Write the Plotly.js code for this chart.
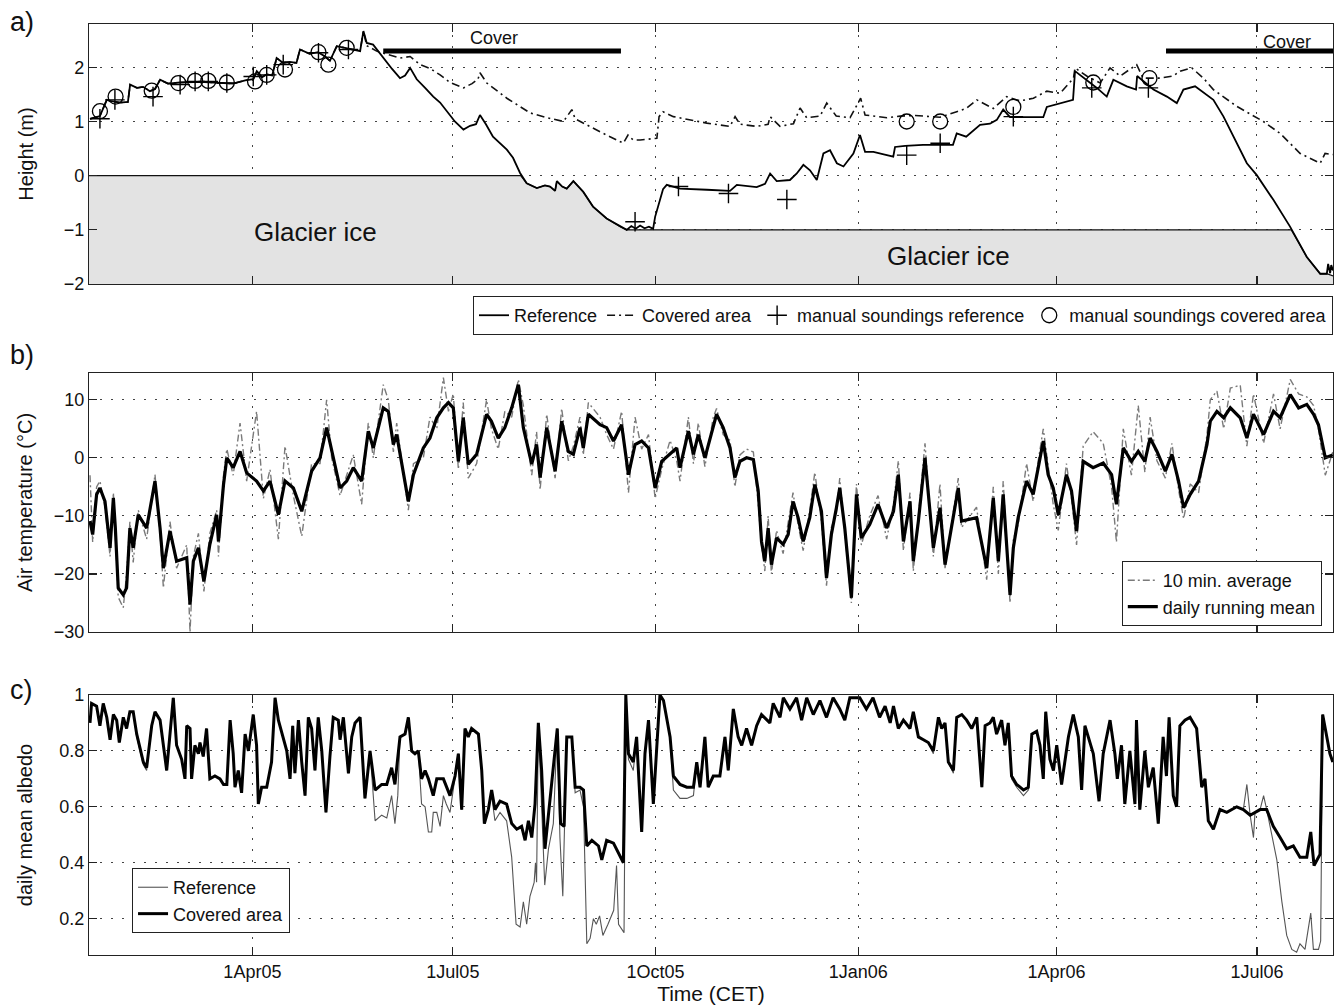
<!DOCTYPE html>
<html>
<head>
<meta charset="utf-8">
<script src="https://cdn.plot.ly/plotly-3.0.1.min.js"></script>
<style>
html,body{margin:0;padding:0;background:#fff;}
#chart{width:1341px;height:1007px;}
</style>
</head>
<body>
<div id="chart"></div>
<script>
// ---------- time axis (days since 1 Jan 2005) ----------
const tickDays   = [90, 181, 273, 365, 455, 546];
const tickLabels = ['1Apr05', '1Jul05', '1Oct05', '1Jan06', '1Apr06', '1Jul06'];
const timeRange  = [15.84, 580.5];

// ---------- panel a: snow height ----------
const refDays = [16.3,19.5,20.8,23.9,25.4,29.9,33.5,34.5,37.6,40.4,
  43.5,45.8,48.1,51.7,57.2,66.2,73.0,81.3,86.7,90.4,
  92.0,94.4,96.5,99.0,101.0,104.0,107.0,110.0,111.6,116.0,
  119.8,123.0,125.2,127.5,128.3,132.0,135.8,138.9,140.4,141.9,
  144.8,149.4,153.4,157.0,159.3,161.6,164.6,168.4,172.1,175.2,
  178.8,181.9,185.8,188.8,191.5,193.3,196.0,199.2,205.5,208.3,
  211.5,214.5,219.1,222.8,225.1,227.4,228.2,230.6,232.7,235.7,
  240.2,244.6,250.8,256.9,259.9,262.0,264.0,266.0,268.0,270.0,
  271.9,272.8,275.1,276.4,278.1,284.1,296.3,306.8,309.9,318.9,
  322.7,325.0,328.0,334.0,337.1,340.1,343.1,346.2,349.2,352.2,
  355.3,358.3,362.8,365.8,368.1,371.9,378.0,380.9,381.7,386.3,
  394.4,408.0,409.7,414.0,420.3,424.8,427.9,430.8,433.9,449.0,
  450.6,459.7,462.5,463.4,468.7,473.3,477.8,480.8,486.9,491.1,
  491.6,499.0,505.1,509.6,512.6,517.9,526.2,530.8,541.4,545.9,
  553.5,561.0,568.6,574.7,577.7,578.3,579.2,579.7,580.5];
const refHeight = [1.05,1.08,1.10,1.40,1.38,1.35,1.36,1.68,1.62,1.64,
  1.56,1.60,1.77,1.70,1.72,1.73,1.72,1.70,1.76,1.78,
  1.93,1.82,1.87,1.85,2.17,2.08,2.10,2.08,2.33,2.25,
  2.28,2.20,2.12,2.30,2.39,2.36,2.32,2.30,2.67,2.45,
  2.42,2.17,1.97,1.80,1.85,1.99,1.78,1.62,1.46,1.35,
  1.15,1.00,0.85,0.92,0.95,1.12,0.95,0.72,0.48,0.33,
  0.05,-0.14,-0.23,-0.18,-0.20,-0.28,-0.10,-0.20,-0.24,-0.10,
  -0.30,-0.57,-0.79,-0.94,-1.00,-0.93,-0.98,-0.92,-0.97,-0.94,
  -0.98,-0.76,-0.45,-0.25,-0.17,-0.24,-0.26,-0.28,-0.17,-0.21,
  -0.15,0.04,-0.10,-0.08,0.04,0.20,0.10,-0.08,0.41,0.47,
  0.23,0.17,0.41,0.75,0.44,0.44,0.38,0.35,0.53,0.55,
  0.57,0.57,0.78,0.72,0.94,0.96,1.03,1.22,1.08,1.08,
  1.27,1.37,1.40,1.93,1.77,1.62,1.46,1.77,1.65,1.59,
  1.84,1.59,1.46,1.34,1.59,1.65,1.40,1.09,0.23,0.01,
  -0.45,-0.94,-1.50,-1.81,-1.81,-1.63,-1.80,-1.65,-1.75];

const covDays = [16.3,19.5,20.8,23.9,25.4,29.9,33.5,34.5,37.6,40.4,
  43.5,45.8,48.1,51.7,57.2,66.2,73.0,81.3,86.7,90.4,
  92.0,94.4,96.5,99.0,101.0,104.0,107.0,110.0,111.6,116.0,
  119.8,123.0,125.2,127.5,128.3,132.0,135.8,138.9,140.4,141.9,
  146.4,152.5,157.0,161.6,166.1,170.6,175.2,179.7,185.8,189.7,
  192.4,193.3,196.4,205.5,216.0,222.8,231.2,235.0,236.5,247.8,
  258.4,260.5,262.8,266.0,273.6,274.6,276.4,281.1,296.3,306.8,
  309.1,311.3,318.9,324.1,325.0,329.5,335.6,338.6,341.6,347.7,
  350.7,355.0,361.3,366.1,368.1,378.0,384.0,390.8,402.1,409.7,
  414.0,418.8,426.3,432.4,438.5,444.5,450.6,456.6,462.7,463.4,
  468.7,474.8,479.3,483.9,491.4,494.3,502.0,507.9,511.1,516.4,
  521.7,526.2,536.8,548.9,556.5,565.6,574.7,576.9,580.5];
const covHeight = [1.05,1.08,1.10,1.40,1.38,1.35,1.36,1.68,1.62,1.64,
  1.56,1.60,1.77,1.70,1.72,1.73,1.72,1.70,1.76,1.78,
  1.93,1.82,1.87,1.85,2.17,2.08,2.10,2.08,2.33,2.25,
  2.28,2.20,2.12,2.30,2.39,2.36,2.32,2.30,2.67,2.40,
  2.30,2.22,2.17,2.20,2.05,1.98,1.86,1.72,1.62,1.70,
  1.78,1.90,1.71,1.43,1.16,1.08,1.00,1.22,1.05,0.81,
  0.60,0.75,0.66,0.66,0.69,1.09,1.18,1.09,0.97,0.91,
  1.09,0.95,0.91,0.95,1.09,0.91,0.96,1.25,1.07,1.10,
  1.34,1.10,1.07,1.43,1.12,1.07,1.10,1.11,1.08,1.18,
  1.24,1.40,1.24,1.46,1.38,1.43,1.56,1.52,1.80,1.99,
  1.84,1.71,1.99,1.84,2.05,1.80,1.80,1.84,1.93,1.99,
  1.80,1.59,1.28,1.00,0.78,0.41,0.23,0.41,0.39];

const soundRefDays   = [20.8,27.6,44.9,57.2,64.0,70.0,78.4,90.4,96.5,104.0,120.0,133.6,263.7,283.4,306.1,332.6,387.0,402.2,435.4,471.0,496.7];
const soundRefHeight = [1.05,1.40,1.46,1.68,1.74,1.74,1.71,1.83,1.86,2.05,2.27,2.33,-0.85,-0.20,-0.33,-0.44,0.38,0.60,1.09,1.62,1.62];
const soundCovDays   = [20.8,27.9,44.3,56.4,64.0,70.0,78.4,91.2,96.5,104.8,120.0,124.5,132.8,387.0,402.2,435.4,471.7,497.2];
const soundCovHeight = [1.19,1.46,1.57,1.71,1.75,1.75,1.72,1.74,1.86,1.96,2.28,2.05,2.36,1.00,1.00,1.27,1.72,1.80];

// glacier ice surface (top of grey area)
const iceDays = [15.84,211.8,214.5,219.1,222.8,225.1,227.4,228.2,230.6,232.7,235.7,240.2,244.6,250.8,256.9,259.9,561.6,568.6,574.7,577.7,580.5];
const iceTop  = [0,0,-0.14,-0.23,-0.18,-0.20,-0.28,-0.10,-0.20,-0.24,-0.10,-0.30,-0.57,-0.79,-0.94,-1.00,-1.00,-1.50,-1.81,-1.81,-1.85];
const iceBottom = -2;

// cover periods
const coverStart = [149.4, 504.7];
const coverEnd   = [257.3, 580.5];
const coverLevel = 2.30;

// ---------- panel b: air temperature ----------
const tempDays = [16.3,17.5,19.3,20.8,23.1,25.4,26.9,27.8,29.1,31.4,
  32.9,34.4,35.9,38.2,42.0,45.8,48.1,49.6,52.6,55.6,
  60.2,61.7,63.2,65.5,68.0,70.7,73.8,74.6,76.9,78.4,
  81.3,84.4,87.4,91.9,95.0,98.0,101.8,104.8,108.6,112.4,
  116.9,120.7,123.7,126.0,129.8,132.8,135.8,139.6,142.6,144.9,
  149.4,151.7,154.0,155.5,160.8,163.1,167.6,170.6,173.7,176.7,
  179.0,181.2,183.5,185.7,188.0,191.8,196.3,198.5,201.6,204.6,
  207.7,210.7,213.0,216.8,219.0,220.6,223.6,227.4,230.4,233.4,
  235.7,238.7,240.2,242.5,247.8,250.8,253.9,257.6,260.7,263.7,
  266.7,269.8,272.8,275.8,279.6,282.6,284.1,287.9,290.2,292.4,
  295.4,299.2,300.7,303.7,306.8,309.0,311.3,314.3,317.4,319.6,
  321.1,322.6,324.1,325.6,327.9,330.9,333.2,335.4,337.7,340.0,
  343.0,345.3,348.3,350.6,352.8,355.1,356.6,358.9,361.9,364.2,
  366.4,370.2,374.0,377.9,381.0,383.2,385.5,388.5,390.0,392.3,
  395.3,399.1,402.1,404.4,410.4,411.9,418.7,423.3,426.3,428.6,
  430.8,433.9,435.4,437.6,441.4,444.4,446.7,449.0,451.2,453.5,
  455.8,459.5,461.8,464.1,467.1,471.6,476.2,480.0,482.2,485.3,
  489.0,492.1,495.1,497.5,500.6,504.4,507.4,510.4,512.7,515.7,
  519.5,523.3,524.8,527.8,530.9,533.9,538.4,541.4,544.4,549.0,
  553.5,556.5,561.1,564.9,568.6,571.7,573.9,577.0,580.4];
const tempMean = [-10.9,-13.2,-6.3,-5.2,-7.5,-15.5,-6.9,-12.1,-22.4,-23.6,
  -22.4,-12.1,-15.5,-9.8,-12.1,-4.0,-12.1,-19.0,-12.6,-17.8,
  -17.2,-25.3,-17.8,-15.5,-21.3,-14.9,-9.8,-14.4,-4.6,0.0,
  -1.7,1.1,-2.6,-4.0,-5.7,-4.0,-9.8,-4.0,-5.2,-9.2,
  -2.3,0.0,5.2,1.1,-5.2,-4.0,-1.7,-4.0,4.6,1.7,
  8.6,8.0,2.3,4.0,-7.5,-2.9,1.7,3.4,6.9,8.6,
  9.5,8.6,-0.6,6.9,-1.1,0.6,7.5,6.3,3.4,5.2,
  8.6,12.6,5.2,-1.1,2.3,-3.4,5.2,-2.3,6.3,1.1,
  0.6,5.2,1.7,7.5,5.7,5.2,2.9,5.7,-2.9,2.3,
  2.9,1.7,-5.2,-0.6,0.6,1.7,-1.7,4.6,0.6,4.0,
  0.0,5.2,7.5,5.2,1.7,-3.4,-0.6,0.0,-0.3,-5.7,
  -14.4,-17.8,-12.1,-18.4,-13.8,-14.9,-13.2,-7.5,-10.3,-14.4,
  -10.3,-4.6,-9.2,-20.7,-13.2,-8.6,-5.2,-12.1,-24.1,-6.3,
  -13.8,-11.5,-8.0,-12.1,-9.2,-2.9,-14.4,-7.5,-17.8,-10.9,
  0.0,-15.5,-8.6,-18.4,-5.2,-10.9,-10.3,-19.0,-6.9,-17.8,
  -6.3,-23.6,-15.5,-10.3,-4.0,-6.3,-1.7,2.9,-2.9,-5.2,
  -9.8,-2.9,-5.7,-12.6,-0.6,-1.7,-0.9,-2.9,-8.0,1.7,
  -0.6,1.1,-0.6,3.4,1.1,-2.3,0.6,-4.0,-8.6,-6.3,
  -4.0,2.3,6.3,8.0,6.9,8.6,6.9,3.4,7.5,4.0,
  8.0,6.9,10.9,8.6,9.2,7.5,5.7,0.0,0.5];
const tempTenMin = [-3,-14.5,-5,-4,-8.5,-17,-6,-13,-24,-25.8,
  -20,-11,-18,-9,-14,-2.9,-13,-22.4,-11,-19,
  -15,-30,-17,-13,-23,-13,-9,-17,-3,1.5,
  -3,6,-4,8,-7,-2,-14,2,-6.5,-13.5,
  -1,-1,10,0,-6.5,-3,0.5,-8,6,0,
  12.6,10,1,6,-9,-1,0,7,5,13.8,
  8,11,-2,9.5,-3.5,-1,10,5,1.5,8,
  7,13.5,9,-3,4.5,-5.5,7.5,-3.5,8.5,-0.5,
  2,7,0.5,9.5,7,4,1.5,8,-6,7,
  1.5,4,-7,-2,3,-0.5,-4,7,-1,6,
  -1.5,7,8.5,4,3,-5,0.5,1.5,1,-8,
  -15,-19.5,-10,-20,-12.5,-16.5,-11,-6,-11.5,-16,
  -9,-2.5,-11,-22,-12,-9.5,-3.5,-13,-25,-4.5,
  -15,-10,-6.5,-14,-8,-0.5,-16,-6,-19.5,-10,
  2.5,-17,-4.5,-19,-3.5,-12,-8.5,-21,-5,-20,
  -4,-25,-14,-11.5,-1,-7.5,-0.5,5,-1.5,-8,
  -12.5,-1,-7,-15,2,4.5,2.5,-5,-14.5,5,
  -3,9,-2.5,7,-0.5,-3.5,2.5,-5.5,-10.5,-4.5,
  -6,4,10,11.5,5,12,12.5,2,11,2.5,
  11,5,13.5,11,10.5,9,5,-3,1];

// ---------- panel c: daily mean albedo ----------
const albCovDays = [16.3,17.0,19.3,20.8,22.3,23.9,25.4,26.9,28.4,29.6,
  31.4,32.9,34.4,35.9,37.5,40.5,42.0,44.3,45.8,48.1,
  51.1,52.6,54.1,55.6,57.9,59.4,60.2,61.7,62.4,63.9,
  65.5,66.2,67.7,69.2,70.7,73.0,75.3,76.9,78.4,79.9,
  81.3,82.1,83.6,85.1,86.7,88.2,90.4,91.9,92.7,94.2,
  96.5,98.7,100.3,101.8,104.0,105.6,107.1,108.3,109.3,110.9,
  112.4,113.9,115.4,116.9,118.4,119.9,121.5,123.4,125.2,126.7,
  129.0,129.8,131.3,133.6,135.1,136.6,138.9,141.1,143.4,145.7,
  148.7,151.0,153.2,154.7,157.0,159.3,160.8,162.3,163.8,165.3,
  166.8,168.4,169.9,172.1,173.7,176.7,179.7,182.0,183.5,185.0,
  186.5,188.0,189.5,192.6,194.1,195.3,197.1,198.6,200.1,202.4,
  205.4,207.7,210.0,212.2,213.8,215.3,216.8,218.3,219.8,221.3,
  222.8,224.4,226.6,228.4,229.9,231.5,232.7,235.0,236.5,238.7,
  240.3,241.8,244.1,247.1,248.6,250.8,253.9,256.9,258.4,259.5,
  260.7,262.9,264.4,266.7,268.2,269.8,272.0,274.3,275.0,276.6,
  279.6,281.1,284.1,287.2,290.2,291.7,293.2,295.4,296.9,299.2,
  302.2,304.5,306.0,308.3,310.5,312.1,314.3,316.6,318.9,321.1,
  324.9,326.4,329.5,331.0,334.0,337.0,339.3,341.6,344.6,347.6,
  350.6,353.6,356.6,358.9,361.2,365.7,368.7,371.7,374.7,377.2,
  379.5,381.0,383.2,385.5,388.5,390.0,392.3,394.6,396.8,399.1,
  401.4,402.9,404.4,405.9,408.2,409.7,412.0,414.2,416.5,418.8,
  421.1,422.6,424.8,426.3,427.8,430.1,431.6,433.1,434.6,436.9,
  440.0,442.2,443.8,446.0,447.5,449.0,450.1,452.0,453.6,455.1,
  457.3,460.4,462.6,464.9,466.4,467.9,469.5,471.7,474.3,476.2,
  479.3,481.5,482.6,484.5,486.0,488.3,490.6,491.3,492.8,495.1,
  496.7,498.9,501.2,503.4,504.9,506.1,508.0,509.5,511.0,513.3,
  515.6,518.6,520.9,522.4,523.9,526.2,529.2,532.3,536.8,539.8,
  542.9,545.1,547.4,550.4,553.4,556.5,559.5,562.5,565.5,568.6,
  570.4,571.9,574.6,575.8,577.6,579.1,580.4];
const albCov = [0.90,0.97,0.96,0.89,0.97,0.92,0.84,0.93,0.91,0.83,
  0.92,0.88,0.94,0.94,0.86,0.76,0.74,0.89,0.94,0.91,
  0.73,0.85,0.99,0.82,0.77,0.70,0.89,0.88,0.70,0.82,
  0.79,0.83,0.78,0.88,0.70,0.71,0.70,0.68,0.68,0.91,
  0.79,0.67,0.73,0.65,0.86,0.80,0.93,0.82,0.61,0.67,
  0.67,0.76,0.99,0.91,0.84,0.80,0.70,0.89,0.72,0.91,
  0.76,0.64,0.92,0.88,0.73,0.92,0.80,0.58,0.78,0.92,
  0.91,0.84,0.92,0.72,0.85,0.90,0.92,0.63,0.80,0.66,
  0.68,0.68,0.74,0.68,0.85,0.86,0.92,0.80,0.79,0.80,
  0.70,0.73,0.70,0.64,0.70,0.70,0.64,0.71,0.79,0.59,
  0.88,0.85,0.88,0.86,0.73,0.54,0.59,0.66,0.59,0.62,
  0.61,0.54,0.52,0.53,0.48,0.55,0.49,0.61,0.90,0.73,
  0.45,0.57,0.73,0.88,0.54,0.53,0.85,0.85,0.67,0.67,
  0.66,0.46,0.48,0.46,0.41,0.48,0.47,0.42,0.40,1.00,
  0.79,0.76,0.85,0.51,0.79,0.91,0.61,0.91,1.00,0.98,
  0.85,0.71,0.68,0.67,0.67,0.76,0.67,0.85,0.67,0.71,
  0.71,0.85,0.73,0.95,0.85,0.82,0.88,0.82,0.89,0.93,
  0.90,0.97,0.92,0.99,0.95,0.99,0.91,0.99,0.93,0.98,
  0.92,0.99,0.95,0.91,0.99,0.99,0.95,0.99,0.92,0.96,
  0.90,0.96,0.88,0.91,0.88,0.94,0.85,0.84,0.83,0.80,
  0.92,0.88,0.90,0.76,0.73,0.92,0.93,0.91,0.88,0.92,
  0.67,0.89,0.90,0.92,0.86,0.91,0.82,0.90,0.71,0.68,
  0.66,0.67,0.86,0.87,0.82,0.70,0.94,0.77,0.73,0.82,
  0.68,0.85,0.93,0.85,0.66,0.89,0.85,0.79,0.62,0.79,
  0.91,0.79,0.70,0.82,0.61,0.80,0.61,0.91,0.59,0.80,
  0.67,0.74,0.54,0.85,0.71,0.92,0.64,0.60,0.89,0.91,
  0.92,0.88,0.67,0.70,0.55,0.52,0.59,0.58,0.60,0.59,
  0.57,0.58,0.59,0.59,0.53,0.49,0.45,0.46,0.42,0.42,
  0.51,0.39,0.43,0.93,0.85,0.79,0.76];

const albRefDays = [16.3,17.0,19.3,20.8,22.3,23.9,25.4,26.9,28.4,29.6,
  31.4,32.9,34.4,35.9,37.5,40.5,42.0,44.3,45.8,48.1,
  51.1,52.6,54.1,55.6,57.9,59.4,60.2,61.7,62.4,63.9,
  65.5,66.2,67.7,69.2,70.7,73.0,75.3,76.9,78.4,79.9,
  81.3,82.1,83.6,85.1,86.7,88.2,90.4,91.9,92.7,94.2,
  96.5,98.7,100.3,101.8,104.0,105.6,107.1,108.3,109.3,110.9,
  112.4,113.9,115.4,116.9,118.4,119.9,121.5,123.4,125.2,126.7,
  129.0,129.8,131.3,133.6,135.1,136.6,138.9,141.1,143.4,145.7,
  148.7,151.0,153.2,154.7,156.0,157.0,159.3,160.8,162.3,163.8,
  165.3,166.8,168.4,169.9,171.4,172.1,173.7,175.2,176.7,178.0,
  179.7,182.0,183.5,185.0,186.5,188.0,189.5,192.6,194.1,195.3,
  197.1,198.6,200.1,202.4,205.4,207.7,209.7,211.5,213.0,214.5,
  216.0,217.9,218.5,219.0,219.8,221.3,222.7,224.4,226.6,228.4,
  229.6,230.9,232.7,235.0,236.5,238.7,240.3,241.8,243.3,244.8,
  246.1,247.6,249.1,251.4,253.1,254.0,255.3,256.2,258.7,259.5,
  260.7,262.9,264.4,266.7,268.2,269.8,272.0,274.3,275.0,276.6,
  279.6,281.1,284.1,287.2,290.2,291.7,293.2,295.4,296.9,299.2,
  302.2,304.5,306.0,308.3,310.5,312.1,314.3,316.6,318.9,321.1,
  324.9,326.4,329.5,331.0,334.0,337.0,339.3,341.6,344.6,347.6,
  350.6,353.6,356.6,358.9,361.2,365.7,368.7,371.7,374.7,377.2,
  379.5,381.0,383.2,385.5,388.5,390.0,392.3,394.6,396.8,399.1,
  401.4,402.9,404.4,405.9,408.2,409.7,412.0,414.2,416.5,418.8,
  421.1,422.6,424.8,426.3,427.8,430.1,431.6,433.1,434.6,436.9,
  440.0,442.2,443.8,446.0,447.5,449.0,450.1,452.0,453.6,455.1,
  457.3,460.4,462.6,464.9,466.4,467.9,469.5,471.7,474.3,476.2,
  479.3,481.5,482.6,484.5,486.0,488.3,490.6,491.3,492.8,495.1,
  496.7,498.9,501.2,503.4,504.9,506.1,508.0,509.5,511.0,513.3,
  515.6,518.6,520.9,522.4,523.9,526.2,529.2,532.3,536.8,539.8,
  541.4,542.9,544.4,545.1,547.4,549.0,550.4,552.0,555.0,557.3,
  559.5,561.8,564.0,565.5,567.8,570.4,571.6,573.9,574.9,575.8,
  577.6,579.1,580.4];
const albRef = [0.90,0.97,0.96,0.89,0.97,0.92,0.84,0.93,0.91,0.83,
  0.92,0.88,0.94,0.94,0.85,0.75,0.73,0.89,0.94,0.91,
  0.73,0.85,0.99,0.82,0.77,0.70,0.89,0.88,0.70,0.82,
  0.79,0.83,0.78,0.88,0.70,0.71,0.70,0.68,0.68,0.91,
  0.79,0.67,0.73,0.65,0.86,0.80,0.93,0.82,0.61,0.67,
  0.67,0.76,0.99,0.91,0.84,0.80,0.70,0.89,0.72,0.91,
  0.76,0.64,0.92,0.88,0.73,0.92,0.80,0.58,0.78,0.92,
  0.91,0.84,0.92,0.72,0.85,0.90,0.92,0.63,0.80,0.55,
  0.57,0.56,0.64,0.54,0.64,0.85,0.86,0.92,0.80,0.79,
  0.80,0.61,0.60,0.51,0.51,0.58,0.58,0.53,0.64,0.61,
  0.58,0.70,0.79,0.59,0.88,0.85,0.88,0.86,0.73,0.54,
  0.59,0.64,0.55,0.58,0.55,0.42,0.18,0.17,0.26,0.18,
  0.28,0.33,0.40,0.33,0.90,0.61,0.32,0.45,0.54,0.88,
  0.49,0.28,0.85,0.85,0.65,0.66,0.60,0.11,0.13,0.20,
  0.18,0.21,0.14,0.18,0.21,0.23,0.39,0.18,0.15,1.00,
  0.77,0.73,0.85,0.51,0.79,0.91,0.61,0.91,1.00,0.98,
  0.85,0.66,0.63,0.63,0.64,0.76,0.67,0.85,0.67,0.71,
  0.71,0.85,0.73,0.95,0.85,0.82,0.88,0.82,0.89,0.93,
  0.90,0.97,0.92,0.99,0.95,0.99,0.91,0.99,0.93,0.98,
  0.92,0.99,0.95,0.91,0.99,0.99,0.95,0.99,0.92,0.96,
  0.90,0.96,0.88,0.91,0.88,0.94,0.85,0.84,0.83,0.79,
  0.92,0.88,0.90,0.76,0.72,0.92,0.93,0.91,0.88,0.92,
  0.67,0.89,0.90,0.92,0.86,0.91,0.82,0.90,0.70,0.67,
  0.64,0.66,0.86,0.87,0.82,0.70,0.94,0.77,0.73,0.82,
  0.68,0.85,0.93,0.85,0.66,0.89,0.85,0.79,0.62,0.79,
  0.91,0.79,0.70,0.82,0.61,0.80,0.61,0.91,0.59,0.80,
  0.67,0.74,0.54,0.85,0.71,0.92,0.64,0.60,0.89,0.91,
  0.92,0.88,0.67,0.70,0.55,0.52,0.59,0.58,0.60,0.59,
  0.68,0.57,0.49,0.58,0.59,0.64,0.59,0.53,0.41,0.26,
  0.14,0.09,0.08,0.11,0.09,0.22,0.09,0.09,0.12,0.93,
  0.85,0.79,0.76];

// ---------- drawing ----------
const FONT = 'Liberation Sans, Arial, Helvetica, sans-serif';
const hoverOff = {hoverinfo: 'skip'};

const traces = [];
// panel a
traces.push(Object.assign({x: iceDays, y: iceDays.map(() => iceBottom), xaxis: 'x3', yaxis: 'y',
  mode: 'lines', line: {width: 0, color: 'rgba(0,0,0,0)'}, showlegend: false}, hoverOff));
traces.push(Object.assign({x: iceDays, y: iceTop, xaxis: 'x3', yaxis: 'y', mode: 'lines',
  fill: 'tonexty', fillcolor: '#e3e3e3', line: {color: '#111', width: 1.3}, showlegend: false}, hoverOff));
coverStart.forEach((s, i) => {
  traces.push(Object.assign({x: [s, coverEnd[i]], y: [coverLevel, coverLevel], xaxis: 'x3', yaxis: 'y',
    mode: 'lines', line: {color: '#000', width: 5}, showlegend: false}, hoverOff));
});
traces.push(Object.assign({x: covDays, y: covHeight, xaxis: 'x3', yaxis: 'y', mode: 'lines',
  name: 'Covered area', legend: 'legend', legendrank: 2,
  line: {color: '#111', width: 1.6, dash: '8px,4px,2px,4px'}}, hoverOff));
traces.push(Object.assign({x: refDays, y: refHeight, xaxis: 'x3', yaxis: 'y', mode: 'lines',
  name: 'Reference', legend: 'legend', legendrank: 1,
  line: {color: '#000', width: 1.8}}, hoverOff));
traces.push(Object.assign({x: soundRefDays, y: soundRefHeight, xaxis: 'x3', yaxis: 'y', mode: 'markers',
  name: 'manual soundings reference', legend: 'legend', legendrank: 3,
  marker: {symbol: 'cross-thin-open', size: 14, color: '#000', line: {color: '#000', width: 1.4}}}, hoverOff));
traces.push(Object.assign({x: soundCovDays, y: soundCovHeight, xaxis: 'x3', yaxis: 'y', mode: 'markers',
  name: 'manual soundings covered area', legend: 'legend', legendrank: 4,
  marker: {symbol: 'circle-open', size: 15, color: '#000', line: {color: '#000', width: 1.3}}}, hoverOff));
// panel b
traces.push(Object.assign({x: tempDays, y: tempTenMin, xaxis: 'x2', yaxis: 'y2', mode: 'lines',
  name: '10 min. average', legend: 'legend2',
  line: {color: '#7a7a7a', width: 1.4, dash: '7px,3px,2px,3px'}}, hoverOff));
traces.push(Object.assign({x: tempDays, y: tempMean, xaxis: 'x2', yaxis: 'y2', mode: 'lines',
  name: 'daily running mean', legend: 'legend2',
  line: {color: '#000', width: 3.2}}, hoverOff));
// panel c
traces.push(Object.assign({x: albRefDays, y: albRef, xaxis: 'x', yaxis: 'y3', mode: 'lines',
  name: 'Reference', legend: 'legend3',
  line: {color: '#555', width: 1.1}}, hoverOff));
traces.push(Object.assign({x: albCovDays, y: albCov, xaxis: 'x', yaxis: 'y3', mode: 'lines',
  name: 'Covered area', legend: 'legend3',
  line: {color: '#000', width: 3}}, hoverOff));

const axisBase = () => ({
  showline: true, linecolor: '#222', linewidth: 1.2, mirror: 'ticks',
  ticks: 'inside', ticklen: 8, tickwidth: 1.2, tickcolor: '#222',
  showgrid: true, gridcolor: '#444', griddash: '2px,9px', gridwidth: 1,
  zeroline: false, tickfont: {family: FONT, size: 18, color: '#111'},
  fixedrange: true
});
const xAxis = (anchor, labels) => Object.assign(axisBase(), {
  anchor: anchor, range: timeRange, tickmode: 'array', tickvals: tickDays, ticktext: tickLabels,
  showticklabels: labels
});

const legendBox = {bordercolor: '#222', borderwidth: 1, bgcolor: '#fff', traceorder: 'normal',
  font: {family: FONT, size: 18, color: '#111'}};

const layout = {
  width: 1341, height: 1007,
  margin: {l: 89, r: 8, t: 24, b: 52},
  paper_bgcolor: '#fff', plot_bgcolor: '#fff',
  font: {family: FONT, color: '#111'},
  xaxis: Object.assign(xAxis('y3', true), {
    title: {text: 'Time (CET)', font: {family: FONT, size: 21}, standoff: 5}}),
  xaxis2: xAxis('y2', false),
  xaxis3: xAxis('y', false),
  yaxis: Object.assign(axisBase(), {domain: [0.7207, 1], anchor: 'x3', range: [-2, 2.8],
    tickmode: 'array', tickvals: [-2, -1, 0, 1, 2],
    title: {text: 'Height (m)', font: {family: FONT, size: 20}, standoff: 24}}),
  yaxis2: Object.assign(axisBase(), {domain: [0.3469, 0.6251], anchor: 'x2', range: [-30, 14.6],
    tickmode: 'array', tickvals: [-30, -20, -10, 0, 10],
    title: {text: 'Air temperature (°C)', font: {family: FONT, size: 20}, standoff: 15}}),
  yaxis3: Object.assign(axisBase(), {domain: [0, 0.2793], anchor: 'x', range: [0.07, 1],
    tickmode: 'array', tickvals: [0.2, 0.4, 0.6, 0.8, 1], ticktext: ['0.2', '0.4', '0.6', '0.8', '1'],
    title: {text: 'daily mean albedo', font: {family: FONT, size: 20}, standoff: 21}}),
  legend: Object.assign({}, legendBox, {orientation: 'h', x: 1, xanchor: 'right', y: 0.7078, yanchor: 'top'}),
  legend2: Object.assign({}, legendBox, {x: 0.991, xanchor: 'right', y: 0.4232, yanchor: 'top'}),
  legend3: Object.assign({}, legendBox, {x: 0.0346, xanchor: 'left', y: 0.0934, yanchor: 'top'}),
  showlegend: true,
  annotations: [
    {text: 'a)', xref: 'paper', yref: 'paper', x: -0.0651, y: 1.0021, xanchor: 'left', yanchor: 'middle', showarrow: false, font: {family: FONT, size: 27}},
    {text: 'b)', xref: 'paper', yref: 'paper', x: -0.0651, y: 0.6445, xanchor: 'left', yanchor: 'middle', showarrow: false, font: {family: FONT, size: 27}},
    {text: 'c)', xref: 'paper', yref: 'paper', x: -0.0651, y: 0.2846, xanchor: 'left', yanchor: 'middle', showarrow: false, font: {family: FONT, size: 27}},
    {text: 'Glacier ice', xref: 'x3', yref: 'y', x: 118.5, y: -1.04, showarrow: false, font: {family: FONT, size: 26}},
    {text: 'Glacier ice', xref: 'x3', yref: 'y', x: 405.8, y: -1.49, showarrow: false, font: {family: FONT, size: 26}},
    {text: 'Cover', xref: 'x3', yref: 'y', x: 199.7, y: 2.54, showarrow: false, font: {family: FONT, size: 18}},
    {text: 'Cover', xref: 'x3', yref: 'y', x: 559.7, y: 2.47, showarrow: false, font: {family: FONT, size: 18}}
  ]
};

Plotly.newPlot('chart', traces, layout, {displayModeBar: false, staticPlot: true});
</script>
</body>
</html>
